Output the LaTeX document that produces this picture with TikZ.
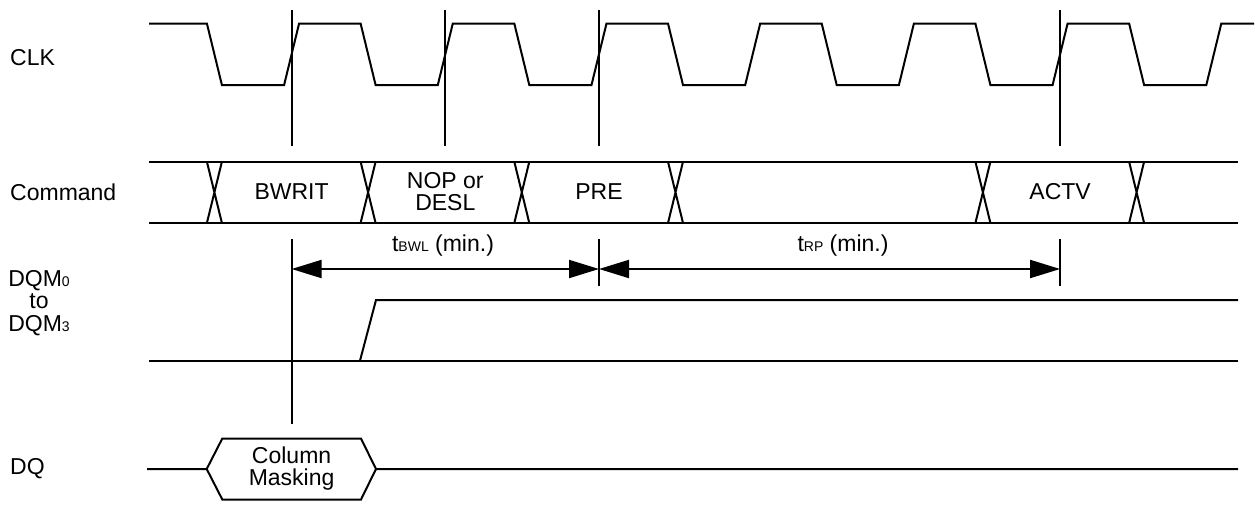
\documentclass[tikz,border=0pt]{standalone}
\usepackage{fontspec}
\setmainfont{Liberation Sans}
\usetikzlibrary{arrows.meta}
\tikzset{
  sig/.style={line width=2pt, line join=miter},
  guide/.style={line width=2pt},
  dim/.style={line width=2pt, {Triangle[length=30pt,width=18pt]}-{Triangle[length=30pt,width=18pt]}},
  lbl/.style={font=\fontsize{23}{22}\selectfont, inner sep=0pt},
}
\newcommand{\smalltxt}[1]{{\fontsize{14}{14}\selectfont #1}}

\begin{document}
\begin{tikzpicture}[x=1pt,y=-1pt]
  \useasboundingbox (0,0) rectangle (1255,504);
  \def\T{153.7} \def\cz{291.6}
  \def\hi{23.5} \def\lo{85}
  \def\ct{161.7} \def\cb{223}

  % signal names
  \node[lbl, anchor=west] (nclk) at (10,58) {CLK};
  \node[lbl, anchor=west] (ncmd) at (10,192) {Command};
  \node[lbl, align=center, font=\fontsize{23}{22.5}\selectfont] (ndqm) at (39,303) {DQM\smalltxt{0}\\to\\DQM\smalltxt{3}};
  \node[lbl, anchor=west] (ndq) at (10,469) {DQ};

  % clock
  \draw[sig] (149,\hi) \foreach \k in {-1,...,5}{
      -- ({\cz+(\k)*\T+69},\hi) -- ({\cz+(\k)*\T+84},\lo)
      -- ({\cz+(\k+1)*\T-7.5},\lo) -- ({\cz+(\k+1)*\T+7.5},\hi) } -- (1254,\hi);

  % command bus
  \draw[sig] (149,\ct) -- (1238,\ct) (149,\cb) -- (1238,\cb);
  \foreach \k in {-1,0,1,2,4,5}
    \draw[sig] ({\cz+(\k)*\T+69},\ct) -- ({\cz+(\k)*\T+84},\cb)
               ({\cz+(\k)*\T+69},\cb) -- ({\cz+(\k)*\T+84},\ct);
  \node[lbl] (bwrit) at ({\cz},192) {BWRIT};
  \node[lbl, align=center] (nop) at ({\cz+\T},192) {NOP or\\DESL};
  \node[lbl] (pre) at ({\cz+2*\T},192) {PRE};
  \node[lbl] (actv) at ({\cz+5*\T},192) {ACTV};

  % clock edge markers
  \foreach \k in {0,1,2,5} {
    \coordinate (e\k) at ({\cz+\k*\T},10);
    \draw[guide] (e\k) -- ++(0,135.7);
  }
  \coordinate (d0) at ({\cz},269);
  \coordinate (d2) at ({\cz+2*\T},269);
  \coordinate (d5) at ({\cz+5*\T},269);
  \draw[guide] (d0) ++(0,-30) -- ++(0,185);
  \draw[guide] (d2) ++(0,-30) -- ++(0,47);
  \draw[guide] (d5) ++(0,-30) -- ++(0,47);

  % timing intervals
  \draw[dim] (d0) -- (d2);
  \draw[dim] (d2) -- (d5);
  \node[lbl] (tbwl) at (443,246) {t\smalltxt{BWL} (min.)};
  \node[lbl] (trp) at (843,246) {t\smalltxt{RP} (min.)};

  % DQM
  \draw[sig] (149,360.7) -- (1238,360.7);
  \draw[sig] (360,360.7) -- (376,300) -- (1238,300);

  % DQ
  \draw[sig] (147,469) -- (206.7,469) -- (222.3,438.5) -- (361,438.5) -- (376,469) -- (1238,469);
  \draw[sig] (206.7,469) -- (222.3,499.5) -- (361,499.5) -- (376,469);
  \node[lbl, align=center] (mask) at ({\cz},469) {Column\\Masking};
\end{tikzpicture}
\end{document}
